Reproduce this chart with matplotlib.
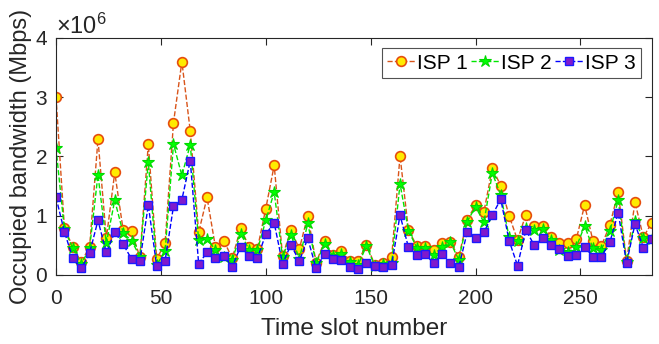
import numpy as np
import matplotlib
matplotlib.use("Agg")
import matplotlib.pyplot as plt
from matplotlib.ticker import ScalarFormatter

plt.rcParams['font.family'] = ['Liberation Sans', 'DejaVu Sans']
plt.rcParams['mathtext.fontset'] = 'custom'
plt.rcParams['mathtext.rm'] = 'Liberation Sans'
plt.rcParams['mathtext.it'] = 'Liberation Sans'

slots = list(range(0, 285, 4))

isp1 = [3.00, 0.80, 0.47, 0.22, 0.47, 2.29, 0.62, 1.73, 0.76, 0.74,
        0.30, 2.21, 0.27, 0.54, 2.57, 3.60, 2.43, 0.72, 1.31, 0.47,
        0.58, 0.28, 0.79, 0.48, 0.44, 1.12, 1.85, 0.32, 0.76, 0.44,
        1.00, 0.21, 0.57, 0.34, 0.41, 0.24, 0.23, 0.51, 0.17, 0.20,
        0.30, 2.01, 0.76, 0.49, 0.49, 0.42, 0.54, 0.56, 0.30, 0.93,
        1.18, 1.07, 1.80, 1.51, 1.00, 0.59, 1.02, 0.82, 0.83, 0.64,
        0.54, 0.54, 0.60, 1.18, 0.57, 0.49, 0.84, 1.40, 0.24, 1.23,
        0.64, 0.88]
isp2 = [2.14, 0.77, 0.45, 0.18, 0.45, 1.69, 0.54, 1.26, 0.71, 0.58,
        0.31, 1.91, 0.17, 0.40, 2.21, 1.68, 2.20, 0.59, 0.61, 0.42,
        0.31, 0.25, 0.70, 0.43, 0.42, 0.92, 1.40, 0.30, 0.68, 0.27,
        0.87, 0.20, 0.53, 0.32, 0.35, 0.22, 0.17, 0.49, 0.15, 0.18,
        0.20, 1.54, 0.75, 0.46, 0.46, 0.33, 0.48, 0.55, 0.26, 0.90,
        1.15, 0.89, 1.72, 1.35, 0.64, 0.57, 0.80, 0.76, 0.78, 0.59,
        0.43, 0.39, 0.47, 0.83, 0.45, 0.43, 0.74, 1.26, 0.22, 0.91,
        0.62, 0.61]
isp3 = [1.31, 0.73, 0.28, 0.11, 0.37, 0.92, 0.38, 0.72, 0.52, 0.27,
        0.24, 1.18, 0.15, 0.24, 1.16, 1.27, 1.93, 0.19, 0.38, 0.28,
        0.32, 0.14, 0.48, 0.32, 0.28, 0.69, 0.88, 0.19, 0.51, 0.23,
        0.62, 0.11, 0.35, 0.27, 0.25, 0.14, 0.10, 0.20, 0.16, 0.13,
        0.17, 1.01, 0.47, 0.34, 0.35, 0.20, 0.35, 0.21, 0.13, 0.72,
        0.62, 0.72, 1.01, 1.28, 0.58, 0.16, 0.76, 0.50, 0.62, 0.51,
        0.44, 0.32, 0.34, 0.47, 0.31, 0.31, 0.55, 1.05, 0.20, 0.86,
        0.46, 0.60]
labels = ['ISP 1', 'ISP 2', 'ISP 3']
xticks = [0, 50, 100, 150, 200, 250]
yticks = [0, 1, 2, 3, 4]

scale = 1e6
fig = plt.figure(figsize=(6.59, 3.44), dpi=100)
ax = fig.add_axes([0.085, 0.2006, 0.904, 0.689])

ax.plot(slots, np.array(isp1) * scale, linestyle='--', color=(0.85, 0.33, 0.10),
        linewidth=1.0, marker='o', markersize=7, markerfacecolor=(1.0, 0.92, 0.0),
        markeredgecolor=(0.9, 0.3, 0.05), markeredgewidth=1.2, label=labels[0])
ax.plot(slots, np.array(isp2) * scale, linestyle='--', color=(0.0, 0.9, 0.0),
        linewidth=1.0, marker='*', markersize=9, markerfacecolor=(0.0, 1.0, 0.0),
        markeredgecolor=(0.0, 0.85, 0.0), markeredgewidth=0.8, label=labels[1])
ax.plot(slots, np.array(isp3) * scale, linestyle='--', color=(0.0, 0.0, 1.0),
        linewidth=1.0, marker='s', markersize=5.5, markerfacecolor=(0.5, 0.1, 0.8),
        markeredgecolor=(0.1, 0.1, 1.0), markeredgewidth=1.0, label=labels[2])

ax.set_xlim(0, 284)
ax.set_ylim(0, 4 * scale)
ax.set_xticks(xticks)
ax.set_yticks([v * scale for v in yticks])
fmt = ScalarFormatter(useMathText=True)
fmt.set_powerlimits((0, 0))
ax.yaxis.set_major_formatter(fmt)
ax.yaxis.get_offset_text().set_fontsize(17)

ax.tick_params(direction='in', top=True, right=True, labelsize=15, length=5,
               width=0.8, colors='#262626')
ax.tick_params(axis='x', pad=10)
ax.tick_params(axis='y', pad=6)
for sp in ax.spines.values():
    sp.set_color('#262626')
    sp.set_linewidth(0.8)

ax.set_xlabel('Time slot number', fontsize=17.5, color='#262626', labelpad=7)
ax.set_ylabel('Occupied bandwidth (Mbps)', fontsize=17, color='#262626', labelpad=2)

leg = ax.legend(loc='upper right', ncol=3, fontsize=15, frameon=True, fancybox=False,
                edgecolor='#262626', handlelength=1.35, handletextpad=0.1,
                columnspacing=0.15, borderpad=0.25, borderaxespad=0.5)
leg.get_frame().set_linewidth(0.8)

fig.savefig('out.png', dpi=100)
